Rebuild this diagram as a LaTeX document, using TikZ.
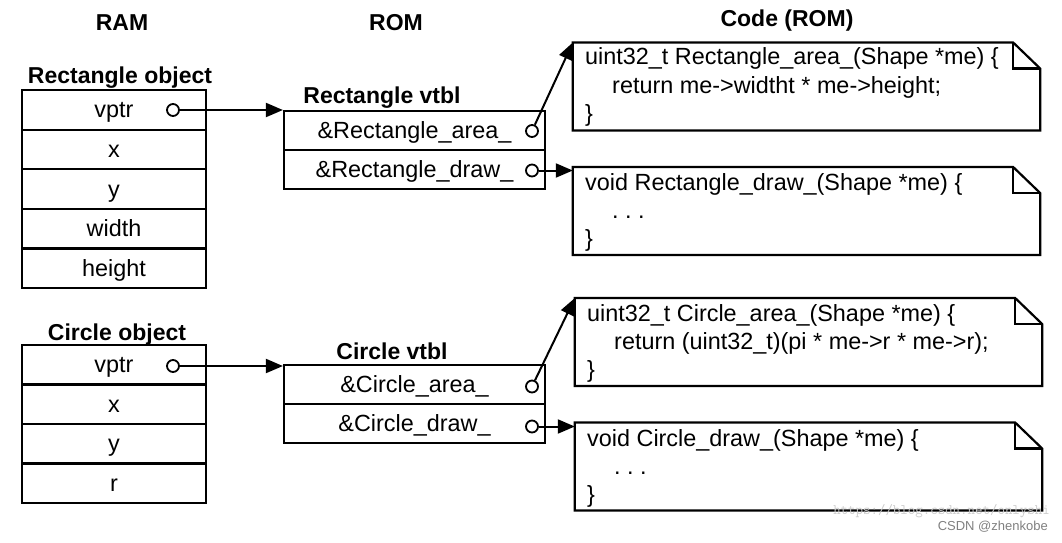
\documentclass[tikz,border=0pt]{standalone}
\usepackage{fontspec}
\setmainfont{Liberation Sans}
\usetikzlibrary{arrows.meta}
\begin{document}
\begin{tikzpicture}[x=1pt,y=-1pt,
  font=\fontsize{23.4}{28}\selectfont,
  every node/.style={inner sep=0pt, text height=17pt, text depth=5pt},
  title/.style={font=\fontsize{23}{28}\selectfont\bfseries},
  cell/.style={draw, line width=2.2pt, minimum width=184pt, minimum height=39.6pt, text height=20pt, text depth=4pt},
  vcell/.style={draw, line width=2.2pt, minimum width=261pt, minimum height=39pt, text height=20pt, text depth=4.5pt},
  dot/.style={circle, draw, line width=1.8pt, fill=white, minimum size=12pt, text height=0pt, text depth=0pt},
  link/.style={line width=2pt, -{Triangle[length=17pt,width=14pt]}},
  codebox/.style={minimum width=467pt, minimum height=87.5pt},
  boxline/.style={line width=2.2pt},
  code/.style={anchor=west, text height=18pt, text depth=4pt},
  wm/.style={text height=, text depth=}
]
\useasboundingbox (0,0) rectangle (1062,543);

% headers
\node[title] (ram) at (122,25) {RAM};
\node[title] (rom) at (396,25) {ROM};
\node[title] (coderom) at (787,21) {Code (ROM)};

% Rectangle object
\node[title] (rol) at (120,77) {Rectangle object};
\node[cell] (r1) at (114,109.8) {vptr};
\node[cell] (r2) at (114,149.4) {x};
\node[cell] (r3) at (114,189) {y};
\node[cell] (r4) at (114,228.6) {width};
\node[cell] (r5) at (114,268.2) {height};

% Circle object
\node[title] (col) at (117,334) {Circle object};
\node[cell] (c1) at (114,364.75) {vptr};
\node[cell] (c2) at (114,404.25) {x};
\node[cell] (c3) at (114,443.75) {y};
\node[cell] (c4) at (114,483.25) {r};

% Rectangle vtbl
\node[title] (rvl) at (382,97) {Rectangle vtbl};
\node[vcell] (rv1) at (414.5,130.5) {\&Rectangle\_area\_};
\node[vcell] (rv2) at (414.5,169.5) {\&Rectangle\_draw\_};

% Circle vtbl
\node[title] (cvl) at (392,353) {Circle vtbl};
\node[vcell] (cv1) at (414.5,384.5) {\&Circle\_area\_};
\node[vcell] (cv2) at (414.5,423.5) {\&Circle\_draw\_};

% code boxes
\node[codebox] (k1) at (806.5,86.5) {};
\node[codebox] (k2) at (806.5,211) {};
\node[codebox] (k3) at (808.5,342) {};
\node[codebox] (k4) at (808.5,466.5) {};
\foreach \k in {k1,k2,k3,k4}{
  \draw[boxline] (\k.south west) -- (\k.north west) -- ([xshift=-27pt]\k.north east)
     -- ([yshift=-26pt]\k.north east) -- (\k.south east) -- cycle;
  \draw[boxline] ([xshift=-27pt]\k.north east) |- ([yshift=-26pt]\k.north east);
}

\node[code] (k1a) at (585,58) {uint32\_t Rectangle\_area\_(Shape *me) \{};
\node[code] (k1b) at (612,86) {return me->widtht * me->height;};
\node[code] (k1c) at (585,114) {\}};

\node[code] (k2a) at (585,183) {void Rectangle\_draw\_(Shape *me) \{};
\node[code] (k2b) at (612,211) {.\ .\ .};
\node[code] (k2c) at (585,239) {\}};

\node[code] (k3a) at (587,314) {uint32\_t Circle\_area\_(Shape *me) \{};
\node[code] (k3b) at (614,342) {return (uint32\_t)(pi * me->r * me->r);};
\node[code] (k3c) at (587,370) {\}};

\node[code] (k4a) at (587,439) {void Circle\_draw\_(Shape *me) \{};
\node[code] (k4b) at (614,467) {.\ .\ .};
\node[code] (k4c) at (587,495) {\}};

% pointer dots
\node[dot] (p1) at (173,110) {};
\node[dot] (p2) at (173,366) {};
\node[dot] (pa1) at (532,131) {};
\node[dot] (pd1) at (532,170.5) {};
\node[dot] (pa2) at (532,386.5) {};
\node[dot] (pd2) at (532,426.5) {};

% connectors
\draw[link] (p1) -- (p1 -| rv1.west);
\draw[link] (p2) -- (p2 -| cv1.west);
\draw[link] (pa1) -- (k1.north west);
\draw[link] (pd1) -- (pd1 -| k2.west);
\draw[link] (pa2) -- (k3.north west);
\draw[link] (pd2) -- (pd2 -| k4.west);

% watermark
\node[wm, anchor=east, text=black!20, font=\fontsize{14.5}{16}\selectfont\ttfamily] (wm1) at (1050,511) {https://blog.csdn.net/onlyshi};
\node[wm, anchor=east, text=black!50, font=\fontsize{13}{15}\selectfont] (wm2) at (1048,527) {CSDN @zhenkobe};
\end{tikzpicture}
\end{document}
